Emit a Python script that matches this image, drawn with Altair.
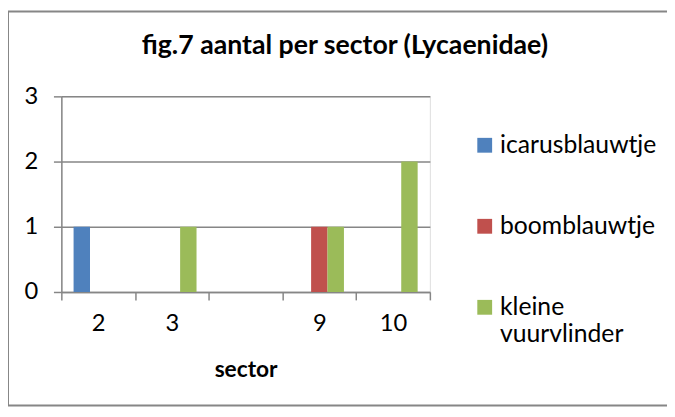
import altair as alt
import pandas as pd

# ---- data ----
sectors = ["2", "3", "", "9", "10"]
species = ["icarusblauwtje", "boomblauwtje", "kleine vuurvlinder"]
colors = ["#4F81BD", "#C0504D", "#9BBB59"]
icarus = [1, 0, 0, 0, 0]
boom = [0, 0, 0, 1, 0]
kleine = [0, 1, 0, 1, 2]
y_ticks = [0, 1, 2, 3]
title_text = "fig.7 aantal per sector (Lycaenidae)"

rows = []
for sp, vals in zip(species, [icarus, boom, kleine]):
    for s, v in zip(sectors, vals):
        if v > 0:
            rows.append({"sector": s, "soort": sp, "aantal": v})
df = pd.DataFrame(rows)

FONT = "Lato"
GRAY = "#868686"
W, H = 373, 198
PL, PT = 54, 87
TW, TH = 667, 401

bars = alt.Chart(df).mark_bar().encode(
    x=alt.X(
        "sector:N",
        sort=sectors,
        scale=alt.Scale(domain=sectors, paddingInner=0, paddingOuter=0),
        axis=alt.Axis(
            title="sector", labelAngle=0, tickBand="extent",
            domainColor=GRAY, domainWidth=1.5, tickColor=GRAY, tickWidth=1.5, tickSize=8,
            labelPadding=12, labelFont=FONT, labelFontSize=24, labelColor="black",
            titleFont=FONT, titleFontSize=23, titleFontWeight="bold", titleColor="black",
            titlePadding=24,
        ),
    ),
    xOffset=alt.XOffset(
        "soort:N",
        sort=species,
        scale=alt.Scale(domain=species, paddingInner=0, paddingOuter=0.745),
    ),
    y=alt.Y(
        "aantal:Q",
        scale=alt.Scale(domain=[0, 3], nice=False),
        axis=alt.Axis(
            values=y_ticks, title=None, format="d",
            grid=True, gridColor=GRAY, gridWidth=1.5,
            domainColor=GRAY, domainWidth=1.5, tickColor=GRAY, tickWidth=1.5, tickSize=8,
            labelPadding=16, labelFont=FONT, labelFontSize=24, labelColor="black",
        ),
    ),
    color=alt.Color(
        "soort:N",
        scale=alt.Scale(domain=species, range=colors),
        legend=alt.Legend(
            title=None, orient="none", legendX=416, legendY=37,
            symbolType="square", symbolSize=225, symbolStrokeWidth=0,
            labelFont=FONT, labelFontSize=25, labelColor="black",
            labelExpr="split(datum.label, ' ')", labelOffset=3,
            rowPadding=56, padding=0, labelLimit=300,
        ),
    ),
)

frame = alt.Chart(alt.Data(values=[{}])).mark_rect(
    fill=None, stroke=GRAY, strokeWidth=2, clip=False
).encode(
    x=alt.value(-PL + 0), x2=alt.value(TW + 20),
    y=alt.value(-PT + 1), y2=alt.value(TH - PT - 1),
)

title = alt.Chart(alt.Data(values=[{}])).mark_text(
    font=FONT, fontSize=27, fontWeight="bold", color="black",
    align="center", baseline="alphabetic",
).encode(
    x=alt.value(287), y=alt.value(-43), text=alt.value(title_text),
)

chart = alt.layer(frame, bars, title).properties(
    width=W, height=H,
    autosize=alt.AutoSizeParams(type="none"),
    padding={"left": PL, "top": PT, "right": TW - PL - W, "bottom": TH - PT - H},
).configure_view(stroke=None).configure(background="white")

chart.save("out.html", embed_options={"renderer": "svg", "actions": False})
